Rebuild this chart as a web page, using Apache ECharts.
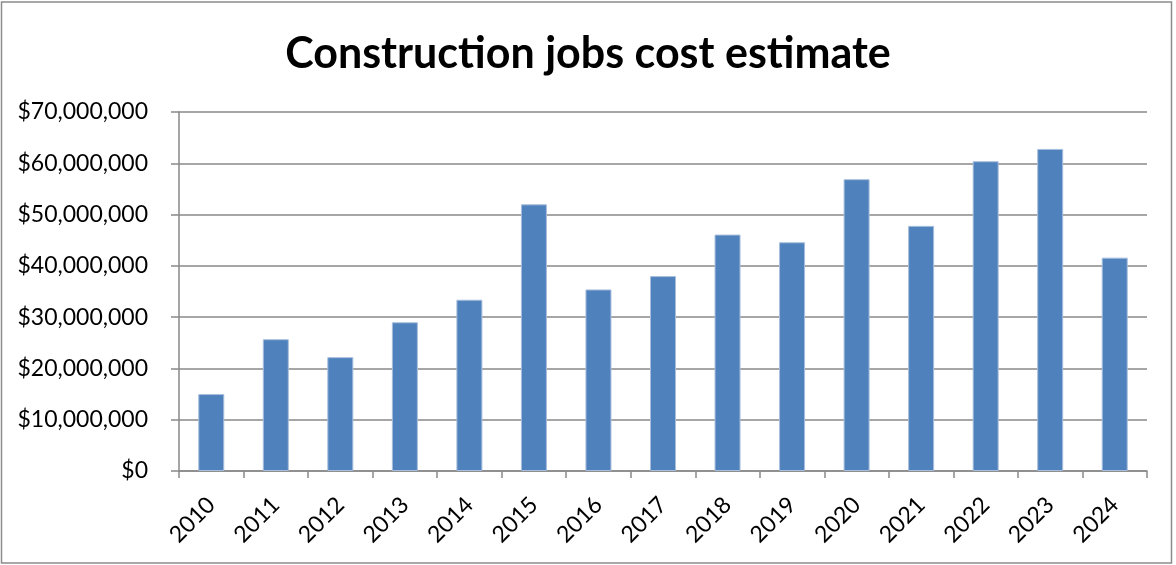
<!DOCTYPE html>
<html>
<head>
<meta charset="utf-8">
<script src="https://cdn.jsdelivr.net/npm/echarts@6/dist/echarts.min.js"></script>
<style>
    html, body { margin: 0; padding: 0; background: #fff; }
    #chart { width: 1176px; height: 565px; }
</style>
</head>
<body>
<div id="chart"></div>
<script>
    // data
    var years = ['2010','2011','2012','2013','2014','2015','2016','2017','2018','2019','2020','2021','2022','2023','2024'];
    var costs = [15000000, 25700000, 22200000, 29000000, 33400000, 52000000, 35400000, 38000000,
                 46100000, 44600000, 56900000, 47800000, 60400000, 62800000, 41600000];
    var yTicks = [0, 10000000, 20000000, 30000000, 40000000, 50000000, 60000000, 70000000];

    var gridColor = '#898989';
    var myChart = echarts.init(document.getElementById('chart'));
    var option = {
        animation: false,
        backgroundColor: '#fff',
        title: {
            text: 'Construction jobs cost estimate',
            left: 'center',
            top: 28,
            textStyle: {
                fontFamily: 'Lato',
                fontWeight: 'bold',
                fontSize: 43,
                color: '#000'
            }
        },
        graphic: [{
            type: 'rect',
            shape: { x: 1.5, y: 2, width: 1170, height: 561 },
            style: { fill: 'none', stroke: '#8c8c8c', lineWidth: 1.5 }
        }],
        grid: {
            left: 179,
            right: 29,
            top: 112,
            bottom: 94
        },
        xAxis: {
            type: 'category',
            data: years,
            axisLine: { lineStyle: { color: gridColor, width: 1.5 } },
            axisTick: { show: true, length: 7, lineStyle: { color: gridColor, width: 1.5 } },
            axisLabel: {
                rotate: 45,
                margin: 30,
                fontFamily: 'Lato',
                fontSize: 23,
                color: '#000'
            }
        },
        yAxis: {
            type: 'value',
            min: yTicks[0],
            max: yTicks[yTicks.length - 1],
            interval: yTicks[1] - yTicks[0],
            axisLine: { show: true, lineStyle: { color: gridColor, width: 1.5 } },
            axisTick: { show: true, length: 8, lineStyle: { color: gridColor, width: 1.5 } },
            splitLine: { lineStyle: { color: gridColor, width: 1.5 } },
            axisLabel: {
                margin: 31,
                fontFamily: 'Lato',
                fontSize: 23,
                color: '#000',
                formatter: function (v) {
                    return '$' + v.toLocaleString('en-US');
                }
            }
        },
        series: [{
            type: 'bar',
            data: costs,
            barWidth: 26,
            itemStyle: {
                color: '#4F81BD',
                borderColor: '#a7bedc',
                borderWidth: 1
            }
        }]
    };
    myChart.setOption(option);
</script>
</body>
</html>
